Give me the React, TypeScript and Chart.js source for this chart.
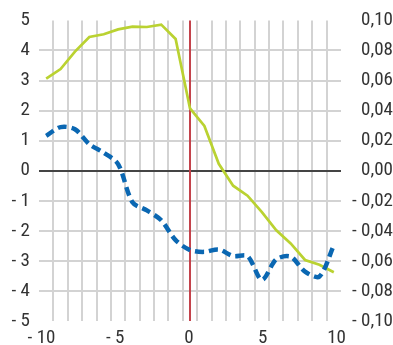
import React, { useEffect, useRef } from "react";
import { Chart, registerables } from "chart.js";

Chart.register(...registerables);

const categories = [-10, -9, -8, -7, -6, -5, -4, -3, -2, -1, 0, 1, 2, 3, 4, 5, 6, 7, 8, 9, 10];
const greenValues = [3.06, 3.38, 3.96, 4.45, 4.54, 4.7, 4.79, 4.78, 4.86, 4.38, 2.07, 1.49, 0.23, -0.5, -0.83, -1.38, -1.98, -2.42, -2.97, -3.13, -3.38];
const blueValues = [0.0232, 0.029, 0.0276, 0.0176, 0.012, 0.0044, -0.021, -0.0264, -0.033, -0.0462, -0.0528, -0.054, -0.0524, -0.0568, -0.0568, -0.0726, -0.059, -0.0572, -0.0672, -0.0704, -0.0496];
const xTickValues = [-10, -5, 0, 5, 10];
const markerCategory = 0;

const FONT_FAMILY = "'Liberation Sans Narrow', 'Arial Narrow', 'Roboto Condensed', 'Liberation Sans', sans-serif";
const TEXT = "#333333";
const GRID = "#d3d3d3";

const fmtLeft = (v: number) => (v < 0 ? `- ${Math.abs(v)}` : `${v}`);
const fmtRight = (v: number) => {
  const s = Math.abs(v).toFixed(2).replace(".", ",");
  return v < -1e-9 ? `- ${s}` : s;
};

export default function App() {
  const ref = useRef<HTMLCanvasElement | null>(null);

  useEffect(() => {
    document.body.style.margin = "0";
    const canvas = ref.current;
    if (!canvas) return;

    const markerPlugin = {
      id: "marker",
      beforeDatasetsDraw(chart: any) {
        const { ctx, chartArea, scales } = chart;
        const x = scales.x.getPixelForValue(categories.indexOf(markerCategory));
        ctx.save();
        ctx.strokeStyle = "#c4434c";
        ctx.lineWidth = 2;
        ctx.beginPath();
        ctx.moveTo(x, chartArea.top);
        ctx.lineTo(x, chartArea.bottom);
        ctx.stroke();
        ctx.restore();
      },
    };

    const font = { family: FONT_FAMILY, size: 19 };

    const chart = new Chart(canvas, {
      type: "line",
      data: {
        labels: categories.map(String),
        datasets: [
          {
            data: blueValues,
            yAxisID: "y1",
            xAxisID: "x",
            borderColor: "#0a67b2",
            borderWidth: 4.5,
            borderDash: [9, 5],
            pointRadius: 0,
            tension: 0.3,
            fill: false,
          },
          {
            data: greenValues,
            yAxisID: "y",
            xAxisID: "x",
            borderColor: "#bad231",
            borderWidth: 2.7,
            pointRadius: 0,
            tension: 0,
            fill: false,
          },
        ],
      },
      options: {
        animation: false,
        responsive: false,
        devicePixelRatio: 1,
        layout: { padding: { top: 18, left: 0, right: 0, bottom: 0 } },
        plugins: { legend: { display: false }, tooltip: { enabled: false } },
        scales: {
          x: {
            type: "category",
            position: "bottom",
            offset: true,
            border: { display: false },
            grid: {
              offset: true,
              drawTicks: false,
              lineWidth: 2,
              color: (ctx: any) => (ctx.type !== "tick" || ctx.index === 0 ? "rgba(0,0,0,0)" : GRID),
            },
            ticks: { display: false },
            afterFit: (s: any) => {
              s.height = 0;
            },
          },
          xl: {
            type: "linear",
            position: "bottom",
            min: -10.17,
            max: 10.3,
            border: { display: false },
            grid: { display: false, drawTicks: false },
            afterBuildTicks: (s: any) => {
              s.ticks = xTickValues.map((v) => ({ value: v }));
            },
            ticks: {
              font,
              color: TEXT,
              padding: 6,
              maxRotation: 0,
              autoSkip: false,
              callback: (v: any) => fmtLeft(Number(v)),
            },
            afterFit: (s: any) => {
              s.height = 24;
            },
          },
          y: {
            type: "linear",
            position: "left",
            min: -5,
            max: 5,
            border: { display: false },
            grid: {
              drawTicks: false,
              lineWidth: 2,
              color: (ctx: any) => {
                if (ctx.type !== "tick") return "rgba(0,0,0,0)";
                const v = ctx.tick.value;
                if (Math.abs(v) === 5) return "rgba(0,0,0,0)";
                if (v === 0) return "#444444";
                return GRID;
              },
            },
            ticks: {
              stepSize: 1,
              font,
              color: TEXT,
              padding: 9,
              callback: (v: any) => fmtLeft(Number(v)),
            },
            afterFit: (s: any) => {
              s.width = 39;
            },
          },
          y1: {
            type: "linear",
            position: "right",
            min: -0.1,
            max: 0.1,
            border: { display: false },
            grid: { display: false, drawTicks: false },
            ticks: {
              stepSize: 0.02,
              font,
              color: TEXT,
              padding: 4,
              crossAlign: "far",
              callback: (v: any) => fmtRight(Number(v)),
            },
            afterFit: (s: any) => {
              s.width = 52;
            },
          },
        },
      },
      plugins: [markerPlugin],
    } as any);

    return () => chart.destroy();
  }, []);

  return (
    <div style={{ position: "fixed", left: 0, top: 0, width: 393, height: 345 }}>
      <canvas ref={ref} width={393} height={345} style={{ display: "block", width: 393, height: 345 }} />
    </div>
  );
}
